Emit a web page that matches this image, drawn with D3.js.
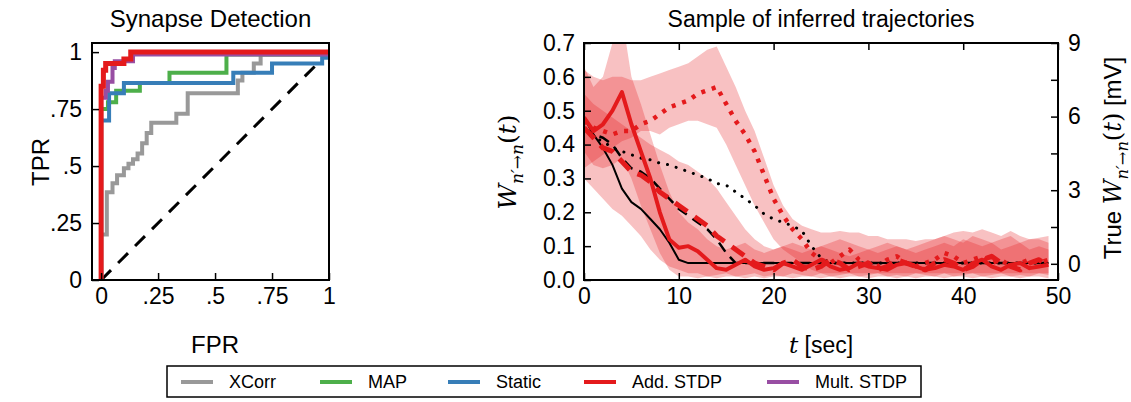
<!DOCTYPE html>
<html><head><meta charset="utf-8">
<script src="https://cdn.jsdelivr.net/npm/d3@7"></script>
<style>
body{margin:0;background:#fff;}
text{font-family:"Liberation Sans",Arial,sans-serif;fill:#000;}
</style></head>
<body>
<svg id="c" width="1131" height="402"></svg>
<script>
// ---------------- data: ROC (Synapse Detection) ----------------
const rocSeries = ["XCorr","MAP","Static","Add. STDP","Mult. STDP"];
const rocColors = ["#999999","#4daf4a","#377eb8","#e41a1c","#984ea3"];
const xcorrFPR = [0,0,0.025,0.05,0.07,0.10,0.12,0.14,0.16,0.18,0.20,0.22,0.33,0.38,0.60,0.62,0.67,0.70,1];
const xcorrTPR = [0,0.20,0.385,0.425,0.46,0.49,0.51,0.53,0.555,0.60,0.645,0.69,0.73,0.82,0.875,0.91,0.95,0.99,0.99];
const mapFPR = [0,0,0.03,0.066,0.17,0.30,0.55,1];
const mapTPR = [0,0.75,0.78,0.83,0.865,0.91,0.99,0.99];
const staticFPR = [0,0,0.035,0.10,0.58,0.75,0.97,1];
const staticTPR = [0,0.70,0.82,0.865,0.91,0.95,0.975,0.975];
const addFPR = [0,0,0.01,0.02,0.10,0.13,1];
const addTPR = [0,0.85,0.92,0.95,0.97,1,1];
const multFPR = [0,0,0.02,0.03,0.05,0.06,0.14,1];
const multTPR = [0,0.80,0.83,0.87,0.93,0.96,0.99,0.99];
const rocTicks = [0,0.25,0.5,0.75,1];
const rocTickLabels = ["0",".25",".5",".75","1"];

// ---------------- data: trajectories ----------------
const timeSec = [0,1,2,3,4,5,6,7,8,9,10,11,12,13,14,15,16,17,18,19,20,21,22,23,24,25,26,27,28,29,30,31,32,33,34,35,36,37,38,39,40,41,42,43,44,45,46,47,48,49];
const trueSolid = [0.48,0.43,0.39,0.34,0.27,0.23,0.21,0.18,0.15,0.11,0.06,0.05,0.05,0.05,0.05,0.05,0.05,0.05,0.05,0.05,0.05,0.05,0.05,0.05,0.05,0.05,0.05,0.05,0.05,0.05,0.05,0.05,0.05,0.05,0.05,0.05,0.05,0.05,0.05,0.05,0.05,0.05,0.05,0.05,0.05,0.05,0.05,0.05,0.05,0.05];
const trueDashed = [0.45,0.43,0.42,0.40,0.36,0.33,0.32,0.30,0.27,0.24,0.21,0.19,0.17,0.15,0.12,0.08,0.05,0.05,0.05,0.05,0.05,0.05,0.05,0.05,0.05,0.05,0.05,0.05,0.05,0.05,0.05,0.05,0.05,0.05,0.05,0.05,0.05,0.05,0.05,0.05,0.05,0.05,0.05,0.05,0.05,0.05,0.05,0.05,0.05,0.05];
const trueDotted = [0.44,0.42,0.41,0.39,0.38,0.37,0.36,0.355,0.345,0.34,0.33,0.32,0.31,0.30,0.285,0.28,0.26,0.24,0.22,0.195,0.18,0.17,0.16,0.145,0.10,0.065,0.05,0.05,0.05,0.05,0.05,0.05,0.05,0.05,0.05,0.05,0.05,0.05,0.05,0.05,0.05,0.05,0.05,0.05,0.05,0.05,0.05,0.05,0.05,0.05];
const infSolid = [0.48,0.44,0.46,0.50,0.555,0.46,0.38,0.30,0.20,0.12,0.095,0.10,0.085,0.06,0.035,0.03,0.045,0.06,0.04,0.03,0.035,0.05,0.04,0.03,0.045,0.06,0.04,0.03,0.035,0.05,0.04,0.035,0.03,0.045,0.05,0.04,0.03,0.035,0.045,0.04,0.03,0.05,0.06,0.04,0.03,0.045,0.05,0.035,0.04,0.045];
const infDashed = [0.45,0.42,0.39,0.38,0.35,0.32,0.31,0.29,0.26,0.24,0.22,0.20,0.18,0.16,0.13,0.11,0.09,0.07,0.05,0.04,0.03,0.05,0.06,0.04,0.03,0.04,0.06,0.05,0.03,0.04,0.05,0.03,0.04,0.06,0.05,0.04,0.03,0.05,0.06,0.05,0.03,0.04,0.06,0.07,0.05,0.04,0.03,0.05,0.06,0.04];
const infDotted = [0.47,0.45,0.44,0.43,0.44,0.44,0.46,0.47,0.49,0.51,0.52,0.53,0.55,0.56,0.57,0.52,0.47,0.43,0.38,0.31,0.24,0.19,0.15,0.12,0.08,0.06,0.05,0.07,0.09,0.06,0.05,0.04,0.06,0.07,0.05,0.04,0.05,0.06,0.08,0.07,0.05,0.06,0.07,0.05,0.06,0.04,0.05,0.06,0.05,0.06];
const bandSolidLo = [0.38,0.34,0.33,0.34,0.36,0.30,0.22,0.15,0.08,0.03,0.01,0.01,0.005,0.01,0.005,0.01,0.01,0.005,0.01,0.005,0.01,0.01,0.005,0.01,0.01,0.005,0.01,0.005,0.01,0.01,0.005,0.01,0.01,0.005,0.01,0.005,0.01,0.01,0.005,0.01,0.01,0.005,0.01,0.005,0.01,0.01,0.005,0.01,0.01,0.005];
const bandSolidHi = [0.63,0.57,0.60,0.70,0.78,0.60,0.52,0.43,0.34,0.26,0.20,0.17,0.15,0.12,0.10,0.09,0.10,0.11,0.09,0.08,0.09,0.10,0.09,0.08,0.09,0.10,0.09,0.08,0.07,0.08,0.09,0.08,0.09,0.10,0.09,0.08,0.09,0.10,0.11,0.10,0.12,0.11,0.10,0.11,0.09,0.10,0.11,0.09,0.10,0.09];
const bandDashedLo = [0.30,0.27,0.24,0.21,0.19,0.16,0.13,0.09,0.06,0.04,0.03,0.02,0.02,0.01,0.015,0.02,0.01,0.015,0.02,0.01,0.015,0.01,0.02,0.015,0.01,0.02,0.01,0.015,0.02,0.01,0.015,0.02,0.01,0.015,0.01,0.02,0.015,0.01,0.02,0.01,0.015,0.02,0.01,0.015,0.02,0.01,0.015,0.01,0.02,0.015];
const bandDashedHi = [0.55,0.52,0.50,0.48,0.46,0.44,0.42,0.40,0.385,0.37,0.35,0.34,0.32,0.30,0.27,0.23,0.19,0.15,0.12,0.10,0.09,0.10,0.11,0.10,0.09,0.10,0.11,0.12,0.11,0.10,0.09,0.10,0.11,0.10,0.09,0.10,0.11,0.12,0.13,0.12,0.11,0.13,0.12,0.11,0.12,0.13,0.11,0.12,0.12,0.11];
const bandDottedLo = [0.33,0.35,0.37,0.39,0.41,0.42,0.44,0.44,0.43,0.45,0.46,0.47,0.47,0.46,0.45,0.40,0.34,0.28,0.22,0.17,0.12,0.09,0.07,0.05,0.03,0.02,0.02,0.02,0.02,0.02,0.02,0.02,0.02,0.02,0.02,0.02,0.02,0.02,0.02,0.02,0.02,0.02,0.02,0.02,0.02,0.02,0.02,0.02,0.02,0.02];
const bandDottedHi = [0.62,0.60,0.59,0.60,0.60,0.59,0.59,0.60,0.61,0.62,0.63,0.64,0.66,0.68,0.69,0.63,0.57,0.50,0.44,0.36,0.28,0.22,0.18,0.16,0.15,0.14,0.14,0.145,0.14,0.14,0.13,0.13,0.12,0.12,0.12,0.115,0.12,0.12,0.13,0.14,0.145,0.14,0.15,0.14,0.13,0.145,0.13,0.12,0.125,0.13];
const wTicks = [0,0.1,0.2,0.3,0.4,0.5,0.6,0.7];
const tTicks = [0,10,20,30,40,50];
const mvTicks = [0,1.5,3,4.5,6,7.5,9];
const mvLabeled = [0,3,6,9];

// ---------------- drawing ----------------
const svg = d3.select("#c");
const RED = "#e41a1c";
const FS = 23;

function styleAxis(g, fs){
  g.select(".domain").remove();
  g.selectAll(".tick line").attr("stroke","#000").attr("stroke-width",1.5);
  g.selectAll(".tick text").attr("font-size",fs).attr("font-family","Liberation Sans, Arial, sans-serif").attr("fill","#000");
}

// ===== Left panel =====
const L = {x0:92, x1:329, y0:43, y1:280};
const lx = d3.scaleLinear().domain([-0.04,1]).range([L.x0,L.x1]);
const ly = d3.scaleLinear().domain([0,1.04]).range([L.y1,L.y0]);
const gl = svg.append("g");

const rocData = [
  [xcorrFPR,xcorrTPR],[mapFPR,mapTPR],[staticFPR,staticTPR],[multFPR,multTPR],[addFPR,addTPR]
];
const rocOrder = [0,1,2,4,3];
const stepLine = d3.line().x(d=>lx(d[0])).y(d=>ly(d[1])).curve(d3.curveStepAfter);
gl.append("clipPath").attr("id","clipL").append("rect")
  .attr("x",L.x0).attr("y",L.y0).attr("width",L.x1-L.x0).attr("height",L.y1-L.y0);
const rocG = gl.append("g").attr("clip-path","url(#clipL)");
rocG.append("path").attr("d", d3.line().x(d=>lx(d)).y(d=>ly(d))([0,0.97]))
  .attr("stroke","#000").attr("stroke-width",3).attr("stroke-dasharray","14,10").attr("fill","none");
rocOrder.forEach((si,k)=>{
  const [f,t] = rocData[k];
  const pts = f.map((v,i)=>[v,t[i]]);
  rocG.append("path").attr("d",stepLine(pts)).attr("fill","none")
    .attr("stroke",rocColors[si]).attr("stroke-width", si===3?5:4).attr("stroke-linejoin","miter");
});
const lxAxis = d3.axisBottom(lx).tickValues(rocTicks).tickFormat((d,i)=>rocTickLabels[i]).tickSizeInner(-7).tickSizeOuter(0).tickPadding(8);
const lyAxis = d3.axisLeft(ly).tickValues(rocTicks).tickFormat((d,i)=>rocTickLabels[i]).tickSizeInner(-7).tickSizeOuter(0).tickPadding(10);
gl.append("g").attr("transform",`translate(0,${L.y1})`).call(lxAxis).call(g=>styleAxis(g,FS));
gl.append("g").attr("transform",`translate(${L.x0},0)`).call(lyAxis).call(g=>styleAxis(g,FS));
gl.append("rect").attr("x",L.x0).attr("y",L.y0).attr("width",L.x1-L.x0).attr("height",L.y1-L.y0)
  .attr("fill","none").attr("stroke","#000").attr("stroke-width",2);
gl.append("text").attr("x",(L.x0+L.x1)/2).attr("y",27).attr("text-anchor","middle").attr("font-size",24).text("Synapse Detection");
gl.append("text").attr("x",215).attr("y",353).attr("text-anchor","middle").attr("font-size",24).text("FPR");
gl.append("text").attr("transform","translate(49,162) rotate(-90)").attr("text-anchor","middle").attr("font-size",24).text("TPR");

// ===== Right panel =====
const R = {x0:584, x1:1058, y0:43, y1:280};
const rx = d3.scaleLinear().domain([0,50]).range([R.x0,R.x1]);
const ry = d3.scaleLinear().domain([0,0.7]).range([R.y1,R.y0]);
const ry2 = d3.scaleLinear().domain([-0.66,9]).range([R.y1,R.y0]);
const gr = svg.append("g");
gr.append("clipPath").attr("id","clipR").append("rect")
  .attr("x",R.x0).attr("y",R.y0).attr("width",R.x1-R.x0).attr("height",R.y1-R.y0);
const pg = gr.append("g").attr("clip-path","url(#clipR)");
const area = d3.area().x((d,i)=>rx(timeSec[i])).y0(d=>ry(d[0])).y1(d=>ry(d[1]));
[[bandDottedLo,bandDottedHi],[bandDashedLo,bandDashedHi],[bandSolidLo,bandSolidHi]].forEach(([lo,hi])=>{
  pg.append("path").attr("d",area(lo.map((v,i)=>[v,hi[i]]))).attr("fill",RED).attr("fill-opacity",0.27).attr("stroke","none");
});
const line = d3.line().x((d,i)=>rx(timeSec[i])).y(d=>ry(d));
function drawLine(vals, color, w, dash, cap){
  pg.append("path").attr("d",line(vals)).attr("fill","none").attr("stroke",color)
    .attr("stroke-width",w).attr("stroke-dasharray",dash||null).attr("stroke-linecap",cap||"butt").attr("stroke-linejoin","round");
}
drawLine(trueDotted,"#000",3,"0.1,9","round");
drawLine(trueDashed,"#000",2.5,"11,7");
drawLine(trueSolid,"#000",2);
drawLine(infDotted,RED,4.5,"4,7");
drawLine(infDashed,RED,5,"15,9");
drawLine(infSolid,RED,4);

const rxAxis = d3.axisBottom(rx).tickValues(tTicks).tickFormat(d3.format("d")).tickSizeInner(-7).tickSizeOuter(0).tickPadding(8);
const rxTop = d3.axisTop(rx).tickValues(tTicks).tickFormat("").tickSizeInner(-7).tickSizeOuter(0);
const ryAxis = d3.axisLeft(ry).tickValues(wTicks).tickFormat(d3.format(".1f")).tickSizeInner(-7).tickSizeOuter(0).tickPadding(9);
const ry2Axis = d3.axisRight(ry2).tickValues(mvTicks).tickFormat(d=>mvLabeled.includes(d)?d3.format("d")(d):"").tickSizeInner(-7).tickSizeOuter(0).tickPadding(10);
gr.append("g").attr("transform",`translate(0,${R.y1})`).call(rxAxis).call(g=>styleAxis(g,FS));
gr.append("g").attr("transform",`translate(0,${R.y0})`).call(rxTop).call(g=>styleAxis(g,FS));
gr.append("g").attr("transform",`translate(${R.x0},0)`).call(ryAxis).call(g=>styleAxis(g,FS));
gr.append("g").attr("transform",`translate(${R.x1},0)`).call(ry2Axis).call(g=>styleAxis(g,FS));
gr.append("rect").attr("x",R.x0).attr("y",R.y0).attr("width",R.x1-R.x0).attr("height",R.y1-R.y0)
  .attr("fill","none").attr("stroke","#000").attr("stroke-width",2);
gr.append("text").attr("x",(R.x0+R.x1)/2).attr("y",27).attr("text-anchor","middle").attr("font-size",23).text("Sample of inferred trajectories");
const xl = gr.append("text").attr("x",(R.x0+R.x1)/2).attr("y",353).attr("text-anchor","middle").attr("font-size",23);
xl.append("tspan").attr("font-family","DejaVu Serif, serif").attr("font-style","italic").text("t");
xl.append("tspan").text(" [sec]");
function wLabel(sel){
  sel.append("tspan").attr("font-family","DejaVu Serif, serif").attr("font-style","italic").text("W");
  sel.append("tspan").attr("font-family","DejaVu Serif, serif").attr("font-style","italic").attr("font-size","0.68em").attr("dy",7).text("n′→n");
  sel.append("tspan").attr("font-family","DejaVu Serif, serif").attr("dy",-7).text("(");
  sel.append("tspan").attr("font-family","DejaVu Serif, serif").attr("font-style","italic").text("t");
  sel.append("tspan").attr("font-family","DejaVu Serif, serif").text(")");
}
const yl = gr.append("text").attr("transform","translate(516,162) rotate(-90)").attr("text-anchor","middle").attr("font-size",25);
wLabel(yl);
const yr = gr.append("text").attr("transform","translate(1121,158) rotate(-90)").attr("text-anchor","middle").attr("font-size",24);
yr.append("tspan").text("True ");
wLabel(yr);
yr.append("tspan").text(" [mV]");

// ===== Legend =====
const lg = svg.append("g");
lg.append("rect").attr("x",167).attr("y",366).attr("width",754).attr("height",31).attr("fill","#fff").attr("stroke","#000").attr("stroke-width",1.5);
const legX = [181,320,448,584,767];
rocSeries.forEach((name,i)=>{
  lg.append("line").attr("x1",legX[i]).attr("x2",legX[i]+32).attr("y1",382).attr("y2",382).attr("stroke",rocColors[i]).attr("stroke-width",4);
  lg.append("text").attr("x",legX[i]+48).attr("y",388).attr("font-size",18).text(name);
});
</script>
</body></html>
